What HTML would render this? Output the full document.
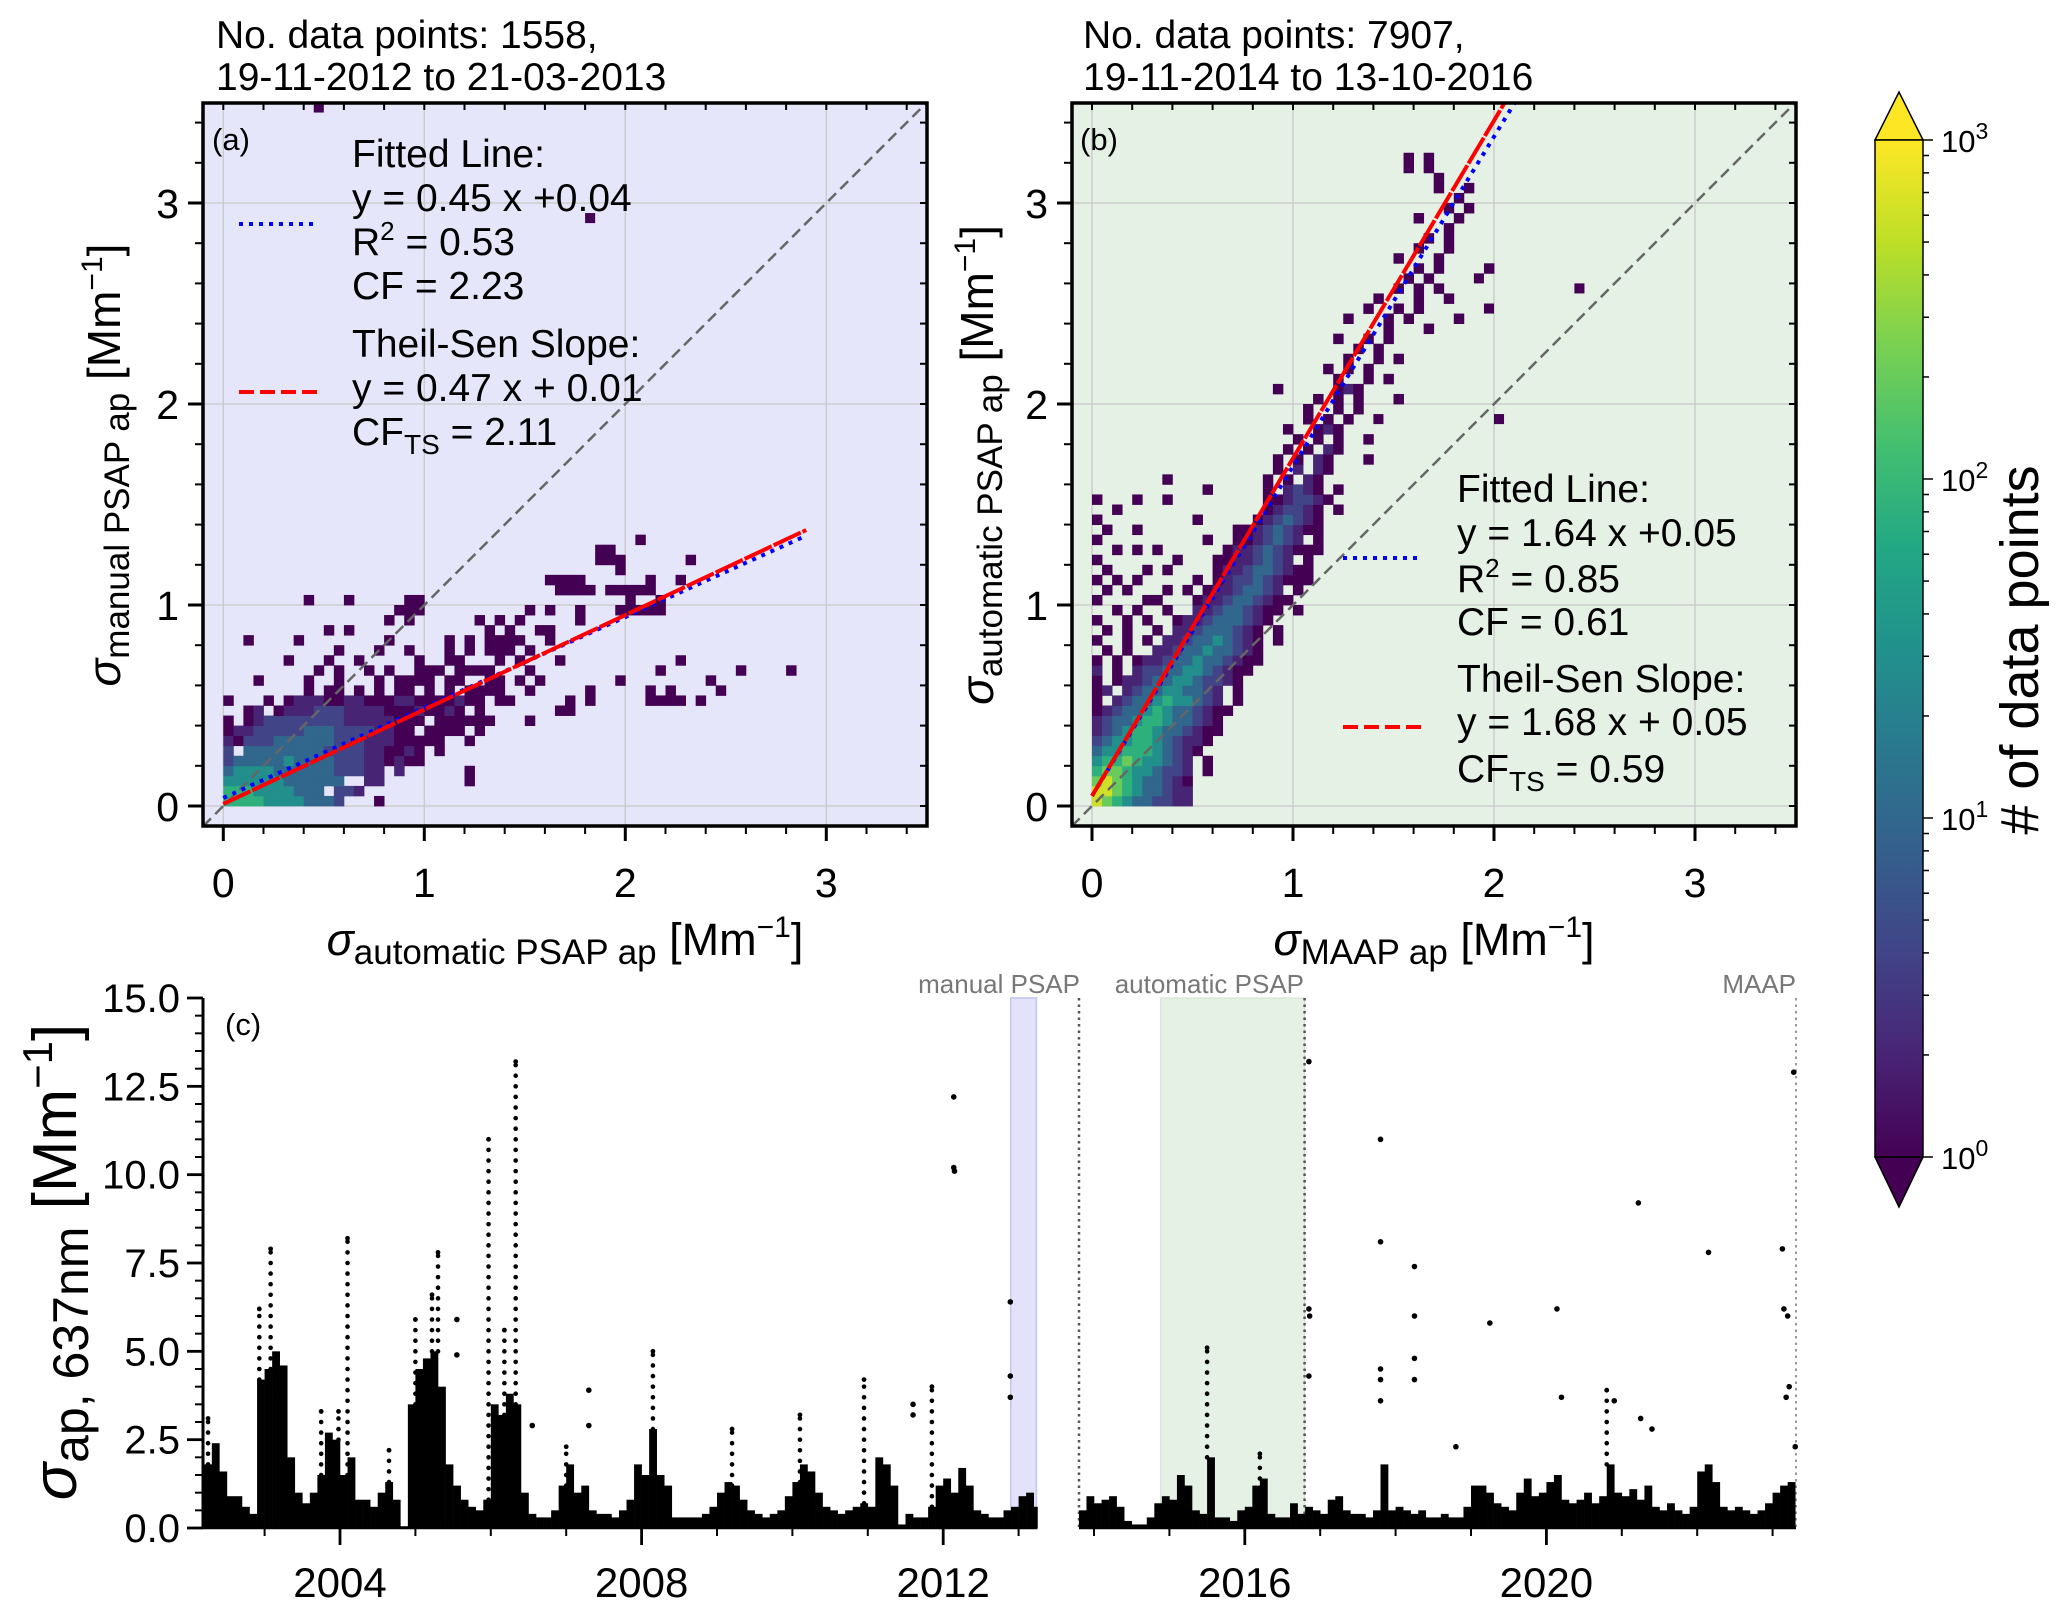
<!DOCTYPE html>
<html><head><meta charset="utf-8">
<style>
html,body{margin:0;padding:0;background:#fff;}
svg{display:block;font-family:"Liberation Sans",Arial,sans-serif;}
</style></head>
<body>
<svg id="fig" width="2067" height="1616" viewBox="0 0 2067 1616" xmlns="http://www.w3.org/2000/svg">
<defs>
<clipPath id="clipA"><rect x="203" y="103" width="724" height="723"/></clipPath>
<clipPath id="clipB"><rect x="1072" y="103" width="724" height="723"/></clipPath>
<linearGradient id="vir" x1="0" y1="1" x2="0" y2="0">
<stop offset="0" stop-color="#440154"/><stop offset="0.1" stop-color="#482475"/><stop offset="0.2" stop-color="#414487"/><stop offset="0.3" stop-color="#355f8d"/><stop offset="0.4" stop-color="#2a788e"/><stop offset="0.5" stop-color="#21918c"/><stop offset="0.6" stop-color="#22a884"/><stop offset="0.7" stop-color="#44bf70"/><stop offset="0.8" stop-color="#7ad151"/><stop offset="0.9" stop-color="#bddf26"/><stop offset="1" stop-color="#fde725"/>
</linearGradient>
</defs>

<!-- panel a -->
<g>
<rect x="203" y="103" width="724" height="723" fill="#e6e6fa"/>
<g id="gridA"></g>
<g id="histA" clip-path="url(#clipA)"></g>
<g id="linesA" clip-path="url(#clipA)"></g>
<rect x="203" y="103" width="724" height="723" fill="none" stroke="#000" stroke-width="3.5"/>
<g id="ticksA"></g>
<text x="212" y="150" font-size="31">(a)</text>
<text x="216" y="48" font-size="39">No. data points: 1558,</text>
<text x="216" y="90" font-size="39">19-11-2012 to 21-03-2013</text>
<text x="565" y="955" font-size="45" text-anchor="middle"><tspan font-style="italic">σ</tspan><tspan font-size="35" dy="9">automatic PSAP ap</tspan><tspan dy="-9"> [Mm</tspan><tspan font-size="30" dy="-18">−1</tspan><tspan dy="18">]</tspan></text>
<text transform="translate(120,465) rotate(-90)" font-size="46" text-anchor="middle"><tspan font-style="italic">σ</tspan><tspan font-size="35" dy="9">manual PSAP ap</tspan><tspan dy="-9"> [Mm</tspan><tspan font-size="30" dy="-18">−1</tspan><tspan dy="18">]</tspan></text>
<g font-size="39">
<line x1="239" y1="224" x2="313" y2="224" stroke="#0000ff" stroke-width="4" stroke-dasharray="4,6"/>
<line x1="239" y1="392" x2="319" y2="392" stroke="#ff0000" stroke-width="4" stroke-dasharray="15,6"/>
<text x="352" y="167">Fitted Line:</text>
<text x="352" y="211">y = 0.45 x +0.04</text>
<text x="352" y="255">R<tspan font-size="26" dy="-15">2</tspan><tspan dy="15"> = 0.53</tspan></text>
<text x="352" y="299">CF = 2.23</text>
<text x="352" y="357">Theil-Sen Slope:</text>
<text x="352" y="401">y = 0.47 x + 0.01</text>
<text x="352" y="445">CF<tspan font-size="28" dy="9">TS</tspan><tspan dy="-9"> = 2.11</tspan></text>
</g>
</g>

<!-- panel b -->
<g>
<rect x="1072" y="103" width="724" height="723" fill="#e6f1e6"/>
<g id="gridB"></g>
<g id="histB" clip-path="url(#clipB)"></g>
<g id="linesB" clip-path="url(#clipB)"></g>
<rect x="1072" y="103" width="724" height="723" fill="none" stroke="#000" stroke-width="3.5"/>
<g id="ticksB"></g>
<text x="1080" y="150" font-size="31">(b)</text>
<text x="1083" y="48" font-size="39">No. data points: 7907,</text>
<text x="1083" y="90" font-size="39">19-11-2014 to 13-10-2016</text>
<text x="1434" y="955" font-size="45" text-anchor="middle"><tspan font-style="italic">σ</tspan><tspan font-size="35" dy="9">MAAP ap</tspan><tspan dy="-9"> [Mm</tspan><tspan font-size="30" dy="-18">−1</tspan><tspan dy="18">]</tspan></text>
<text transform="translate(993,465) rotate(-90)" font-size="46" text-anchor="middle"><tspan font-style="italic">σ</tspan><tspan font-size="35" dy="9">automatic PSAP ap</tspan><tspan dy="-9"> [Mm</tspan><tspan font-size="30" dy="-18">−1</tspan><tspan dy="18">]</tspan></text>
<g font-size="39">
<line x1="1343" y1="558" x2="1418" y2="558" stroke="#0000ff" stroke-width="4" stroke-dasharray="4,6"/>
<line x1="1343" y1="727" x2="1423" y2="727" stroke="#ff0000" stroke-width="4" stroke-dasharray="15,6"/>
<text x="1457" y="502">Fitted Line:</text>
<text x="1457" y="546">y = 1.64 x +0.05</text>
<text x="1457" y="592">R<tspan font-size="26" dy="-15">2</tspan><tspan dy="15"> = 0.85</tspan></text>
<text x="1457" y="635">CF = 0.61</text>
<text x="1457" y="692">Theil-Sen Slope:</text>
<text x="1457" y="735">y = 1.68 x + 0.05</text>
<text x="1457" y="782">CF<tspan font-size="28" dy="9">TS</tspan><tspan dy="-9"> = 0.59</tspan></text>
</g>
</g>

<!-- colorbar -->
<g>
<polygon points="1875,140 1899,92 1923,140" fill="#fde725" stroke="#000" stroke-width="1.5"/>
<polygon points="1875,1157 1899,1207 1923,1157" fill="#440154" stroke="#000" stroke-width="1.5"/>
<rect x="1875" y="140" width="48" height="1017" fill="url(#vir)" stroke="#000" stroke-width="1.5"/>
<g id="cbTicks"></g>
<text transform="translate(2038,650) rotate(-90)" font-size="54" text-anchor="middle"># of data points</text>
</g>

<!-- panel c -->
<g>
<rect x="1010.7" y="998" width="25.7" height="530" fill="#e2e2fa" stroke="#c4c4f0" stroke-width="1.5"/>
<rect x="1160.7" y="998" width="143.9" height="530" fill="#e5f1e5" stroke="#cfe3cf" stroke-width="1"/>
<line x1="1079" y1="998" x2="1079" y2="1528" stroke="#555" stroke-width="2.5" stroke-dasharray="2.5,4"/>
<line x1="1304.6" y1="998" x2="1304.6" y2="1528" stroke="#555" stroke-width="2.5" stroke-dasharray="2.5,4"/>
<line x1="1796" y1="998" x2="1796" y2="1528" stroke="#777" stroke-width="1.5" stroke-dasharray="2.5,4"/>
<text x="1080" y="993" font-size="26" fill="#777" text-anchor="end">manual PSAP</text>
<text x="1304" y="993" font-size="26" fill="#777" text-anchor="end">automatic PSAP</text>
<text x="1796" y="993" font-size="26" fill="#777" text-anchor="end">MAAP</text>
<g id="seriesC"></g>
<g id="axesC"></g>
<text x="225" y="1035" font-size="31">(c)</text>
<text transform="translate(76,1262) rotate(-90)" font-size="62" text-anchor="middle"><tspan font-style="italic">σ</tspan><tspan font-size="50" dy="12">ap, 637nm</tspan><tspan dy="-12"> [Mm</tspan><tspan font-size="42" dy="-24">−1</tspan><tspan dy="24">]</tspan></text>
</g>
</svg>

<script>
// ---------- data: panel (a) 2D histogram, rows = y-bins of 0.05 from 0, chars = level per x-bin of 0.05 ----------
const binSize = 0.05;
const levelCounts = [0, 1, 2, 4, 10, 30, 80, 200, 600];
const histARows = [
"666655554443...1",
"6665555444.332",
"555555444444..22........1",
"4555544444433322.2......1",
"34444454444333221211",
"3.444444443333221121.1",
"2133344444433322211111..1",
"1223333344433332211.1111.1",
"1.123333333322222111.111111...1",
"..12.1222333222211121121.1.......11",
"1...1.12221122111221111211.11.....1.1.....1111.1",
"........1.11.1.1.11.1.1.1111..1.....1.....1.1....1",
"...1....1..1...1.1111.11..11.1.1.......1........1",
".........1.1..1.1..111.1111...1............1.......1....1",
"......1...1..1.....1..11...1.1...1...........1",
"...........1...1..1...1.1.111.1",
"..1....1........1.....1.1.1111..1",
"..........1.1.............1.1..11",
"................1.1......1.1.1.....1",
".................111..........1.1..1...11111",
"........1...1.....11....................1..1",
".................................1111.11111",
"................................1111......1..1",
".......................................1",
".....................................111......1",
".....................................11",
".........................................1"
];
const histAExtraCols = [36, 9];
const histAExtraRows = [58, 69];
const histAExtraLevels = [1, 1];

// ---------- data: panel (b) ----------
const histBRows = [
"8765443322",
"8876544322",
"7876544321",
"6776554332.1",
"5667655432.1",
"45566654321",
"345566543221",
"2345665443211",
"2344566544321",
"12344565443211",
"1.23445655432.1",
"12.2344554432.1",
"1.1223445543321",
"2.1.233445543211",
"1.1.1223445443211",
".1.1..22344544321",
"1..1.1.2234454321.1",
".1.1..1.223444321.1",
"1..1.1..1223444321",
"..1.1..1..223443211.1",
"1....11...1223443211",
".1.1...1.1.12234432.1",
"1.1.1.....1.1233432111",
".1...1.1....1223443211",
"1.......1...11223432.1",
"..1.1.1......1223432111",
"1..........1..1123432.1",
".1..1.........112343211",
"1.........1.....1234321",
"..1..............123321.1",
"1...1..1.........1123321",
"...........1.....1.2321.1",
".......1.........1.1.21",
"..................1.2.21",
"..................1.1.21...1",
"...................1.1.21",
"....................1.1.1..1",
"...................1..121",
".....................1.1.1",
".....................1..1.1",
"......................1.1.1...1",
"..................1.....121",
"........................1..1.1",
".......................1.1.1",
".........................1..1.1",
"..........................1.1",
"........................1..1.1",
".............................1...1",
".........................1...1.1....1",
"...........................1..1.1",
"............................1...1..1",
"..............................1.1.1",
"...............................1.1",
"................................1.1....1",
"..............................1...1",
"................................1..1",
".................................1.1",
"...................................1",
"................................1...1",
"...................................1.1",
"....................................1",
"..................................1..1",
"..................................1",
"...............................1.1",
"...............................1.1"
];
const histBExtraCols = [38, 39, 40, 48, 28];
const histBExtraRows = [52, 49, 38, 51, 38];
const histBExtraLevels = [1, 1, 1, 1, 1];

// fits
const fitA = [0.45, 0.04], tsA = [0.47, 0.01];
const fitB = [1.64, 0.05], tsB = [1.68, 0.05];
const fitXmaxA = 2.9, fitXmaxB = 2.2;

// ---------- data: panel (c) time series ----------
const seg1Start = 2002.2;
const seg1Env = [1.8,2.4,1.6,0.9,0.9,0.6,0.4,4.2,4.5,5.0,4.6,2.0,1.0,0.7,1.0,1.5,2.7,2.5,1.5,2.0,
0.8,0.8,0.6,1.0,1.3,0.8,0.05,3.5,4.5,4.8,5.0,4.0,1.8,1.2,0.8,0.6,0.5,0.8,3.5,3.2,
3.8,3.5,1.0,0.4,0.3,0.3,0.5,1.2,1.8,1.0,1.2,0.5,0.4,0.4,0.3,0.5,0.8,1.8,1.5,2.8,
1.5,1.2,0.3,0.3,0.3,0.3,0.4,0.6,1.0,1.3,1.2,0.8,0.5,0.4,0.3,0.4,0.5,0.9,1.3,1.8,
1.6,1.0,0.6,0.5,0.4,0.5,0.6,0.7,0.6,2.0,1.8,1.2,0.1,0.4,0.3,0.3,0.6,1.2,1.4,1.0,
1.7,1.2,0.5,0.4,0.3,0.3,0.5,0.6,0.9,1.0,0.6];
const seg2Start = 2013.8;
const seg2Env = [0.5,0.9,0.7,0.8,0.9,0.6,0.2,0.1,0.1,0.3,0.7,0.9,0.8,1.5,1.2,0.5,0.4,2.0,0.3,0.3,
0.2,0.5,0.6,1.2,1.4,0.4,0.3,0.3,0.7,0.4,0.6,0.5,0.4,0.8,0.9,0.5,0.4,0.4,0.3,0.5,
1.8,0.5,0.6,0.5,0.4,0.5,0.3,0.3,0.4,0.3,0.3,0.6,1.2,1.2,1.0,0.7,0.6,0.5,1.0,1.4,
0.9,1.0,1.3,1.5,0.8,0.7,0.8,1.0,0.7,0.9,1.8,1.0,0.9,1.1,0.8,1.2,0.6,0.5,0.7,0.5,
0.4,0.6,1.6,1.8,1.3,0.6,0.5,0.6,0.5,0.4,0.5,0.7,1.0,1.2,1.3];
const envStep = 0.1;
const seg1End = 2013.25, seg2End = 2023.31;
const colYears = [2002.25,2002.93,2003.08,2003.22,2003.75,2003.98,2004.1,2004.65,2005.0,2005.22,2005.3,2005.97,2006.18,2006.33,2007.0,2008.15,2009.2,2010.1,2010.95,2011.85,2015.5,2016.2,2020.8];
const colTops  = [3.1,6.2,7.9,3.8,3.3,3.3,8.2,2.2,5.9,6.6,7.8,11.0,5.6,13.2,2.3,5.0,2.8,3.2,4.2,4.0,5.1,2.1,3.9];
const ptYears = [2005.55,2005.55,2006.55,2007.3,2007.3,2011.6,2011.6,2012.14,2012.14,2012.15,2012.89,2012.89,2012.89,2016.85,2016.85,2016.86,2016.85,2017.8,2017.8,2017.8,2017.8,2017.8,2018.25,2018.25,2018.25,2018.25,2019.25,2018.8,2020.14,2020.2,2021.22,2021.25,2021.4,2022.15,2023.13,2023.15,2023.2,2023.22,2023.18,2023.28,2023.3,2020.9];
const ptVals  = [5.9,4.9,2.9,3.9,2.9,3.5,3.2,12.2,10.2,10.1,6.4,4.3,3.7,13.2,6.2,6.0,4.3,11.0,8.1,4.5,4.2,3.6,7.4,6.0,4.8,4.2,5.8,2.3,6.2,3.7,9.2,3.1,2.8,7.8,7.9,6.2,6.0,4.0,3.7,12.9,2.3,3.6];
const yTicksC = [0, 2.5, 5, 7.5, 10, 12.5, 15];
const yTickLabelsC = ["0.0","2.5","5.0","7.5","10.0","12.5","15.0"];
const xTicksC = [2004, 2008, 2012, 2016, 2020];
const abTicks = [0, 1, 2, 3];
const cbExps = [0, 1, 2, 3];

// ---------- helpers ----------
const NS = "http://www.w3.org/2000/svg";
function mk(tag, attrs, parent) {
  const e = document.createElementNS(NS, tag);
  for (const k in attrs) e.setAttribute(k, attrs[k]);
  parent.appendChild(e);
  return e;
}
const vstops = ["#440154","#482475","#414487","#355f8d","#2a788e","#21918c","#22a884","#44bf70","#7ad151","#bddf26","#fde725"];
function hexToRgb(h){return [parseInt(h.substr(1,2),16),parseInt(h.substr(3,2),16),parseInt(h.substr(5,2),16)];}
function viridis(t){
  t = Math.max(0, Math.min(1, t));
  const p = t * 10, i = Math.min(9, Math.floor(p)), f = p - i;
  const a = hexToRgb(vstops[i]), b = hexToRgb(vstops[i+1]);
  return "rgb(" + a.map((v,k)=>Math.round(v + (b[k]-v)*f)).join(",") + ")";
}
const PX = 201;
function axisA(x){return 223.3 + PX*x;}
function axisB(x){return 1092 + PX*x;}
function axisY(y){return 806 - PX*y;}
function yearX(y){return 340 + 75.4*(y - 2004);}
function valY(v){return 1528 - (530/15)*v;}

function drawHist(rows, exCols, exRows, exLev, xs, g) {
  const cell = binSize*PX;
  rows.forEach((row, j) => {
    for (let i = 0; i < row.length; i++) {
      const c = row[i];
      if (c === '.') continue;
      const n = levelCounts[+c];
      const r = mk('rect', {x: xs(i*binSize), y: axisY((j+1)*binSize), width: cell+0.4, height: cell+0.4, fill: viridis(Math.log10(n)/3)}, g);
      
      
    }
  });
  exCols.forEach((ci, k) => {
    const n = levelCounts[exLev[k]];
    const r = mk('rect', {x: xs(ci*binSize), y: axisY((exRows[k]+1)*binSize), width: cell, height: cell, fill: viridis(Math.log10(n)/3)}, g);
    
    
  });
}

function drawGrid(xs, x0, x1, g) {
  abTicks.forEach(t => {
    const a = mk('line', {x1: xs(t), x2: xs(t), y1: 103, y2: 826, stroke: '#c8c8c8', 'stroke-width': 1.3}, g);
    
    
    const b = mk('line', {x1: x0, x2: x1, y1: axisY(t), y2: axisY(t), stroke: '#c8c8c8', 'stroke-width': 1.3}, g);
    
    
  });
}

function drawTicks(xs, x0, x1, g) {
  for (let k = 0; k <= 17; k++) {
    const v = k*0.2; const major = (k % 5 === 0);
    const L = major ? 15 : 8;
    const px = xs(v), py = axisY(v);
    if (px >= x0 && px <= x1) {
      mk('line', {x1: px, x2: px, y1: 826, y2: 826+L, stroke: '#000', 'stroke-width': major?3:2}, g);
      mk('line', {x1: px, x2: px, y1: 103, y2: 103+7, stroke: '#000', 'stroke-width': 2}, g);
    }
    if (py >= 103 && py <= 826) {
      mk('line', {x1: x0-L, x2: x0, y1: py, y2: py, stroke: '#000', 'stroke-width': major?3:2}, g);
      mk('line', {x1: x1-7, x2: x1, y1: py, y2: py, stroke: '#000', 'stroke-width': 2}, g);
    }
  }
  abTicks.forEach(t => {
    const tx = mk('text', {x: xs(t), y: 897, 'font-size': 41, 'text-anchor': 'middle'}, g);
    tx.textContent = String(t);
    
    
    const ty = mk('text', {x: x0-24, y: axisY(t)+15, 'font-size': 41, 'text-anchor': 'end'}, g);
    ty.textContent = String(t);
    
    
  });
}

function drawLines(xs, fit, ts, xmax, g) {
  const d = mk('line', {x1: xs(-0.1), y1: axisY(-0.1), x2: xs(3.5), y2: axisY(3.5), stroke: '#666', 'stroke-width': 2.5, 'stroke-dasharray': '11,6'}, g);
  
  
  const f = mk('line', {x1: xs(0), y1: axisY(fit[1]), x2: xs(xmax), y2: axisY(fit[0]*xmax+fit[1]), stroke: '#0000ff', 'stroke-width': 4, 'stroke-dasharray': '4,6'}, g);
  
  
  const t = mk('line', {x1: xs(0), y1: axisY(ts[1]), x2: xs(xmax), y2: axisY(ts[0]*xmax+ts[1]), stroke: '#ff0000', 'stroke-width': 4, 'stroke-dasharray': '30,2'}, g);
  
  
}

const gA = document.getElementById('histA'), gB = document.getElementById('histB');
drawGrid(axisA, 203, 927, document.getElementById('gridA'));
drawGrid(axisB, 1072, 1796, document.getElementById('gridB'));
drawHist(histARows, histAExtraCols, histAExtraRows, histAExtraLevels, axisA, gA);
drawHist(histBRows, histBExtraCols, histBExtraRows, histBExtraLevels, axisB, gB);
drawLines(axisA, fitA, tsA, fitXmaxA, document.getElementById('linesA'));
drawLines(axisB, fitB, tsB, fitXmaxB, document.getElementById('linesB'));
drawTicks(axisA, 203, 927, document.getElementById('ticksA'));
drawTicks(axisB, 1072, 1796, document.getElementById('ticksB'));

// colorbar ticks
(function(){
  const g = document.getElementById('cbTicks');
  const top = 140, bot = 1157;
  const cy = v => bot - (bot-top)*Math.log10(v)/3;
  for (let e = 0; e < 3; e++) for (let m = 1; m <= 9; m++) {
    const v = m*Math.pow(10,e); const yy = cy(v);
    mk('line', {x1: 1923, x2: 1923+(m===1?10:6), y1: yy, y2: yy, stroke: '#000', 'stroke-width': 1.5}, g);
  }
  mk('line', {x1: 1923, x2: 1933, y1: cy(1000), y2: cy(1000), stroke: '#000', 'stroke-width': 1.5}, g);
  cbExps.forEach(e => {
    const t = mk('text', {x: 1941, y: cy(Math.pow(10,e))+12, 'font-size': 31}, g);
    
    
    t.innerHTML = '10<tspan font-size="23" dy="-13">' + e + '</tspan>';
  });
})();

// panel c series
(function(){
  const g = document.getElementById('seriesC');
  function env(start, vals, end) {
    vals.forEach((v, i) => {
      const y0 = start + i*envStep, y1 = Math.min(end, y0 + envStep);
      const r = mk('rect', {x: yearX(y0), y: valY(v), width: yearX(y1)-yearX(y0)+0.3, height: valY(0)-valY(v), fill: '#000'}, g);
      
      
    });
  }
  env(seg1Start, seg1Env, seg1End);
  env(seg2Start, seg2Env, seg2End);
  colYears.forEach((yr, k) => {
    const segVals = yr < 2013.5 ? seg1Env : seg2Env, st = yr < 2013.5 ? seg1Start : seg2Start;
    const base = segVals[Math.min(segVals.length-1, Math.floor((yr-st)/envStep))];
    for (let v = base; v <= colTops[k]; v += 0.3) {
      const c = mk('circle', {cx: yearX(yr), cy: valY(v), r: 2.3, fill: '#000'}, g);
      
      
    }
    const c = mk('circle', {cx: yearX(yr), cy: valY(colTops[k]), r: 2.4, fill: '#000'}, g);
    
    
  });
  ptYears.forEach((yr, k) => {
    const c = mk('circle', {cx: yearX(yr), cy: valY(ptVals[k]), r: 2.8, fill: '#000'}, g);
    
    
  });
})();

// panel c axes
(function(){
  const g = document.getElementById('axesC');
  const spine = mk('line', {x1: 203, x2: 203, y1: 998, y2: 1528, stroke: '#000', 'stroke-width': 3}, g);
  
  
  mk('line', {x1: 203, x2: yearX(seg1End), y1: 1528, y2: 1528, stroke: '#000', 'stroke-width': 2.5}, g);
  mk('line', {x1: 1079, x2: 1796, y1: 1528, y2: 1528, stroke: '#000', 'stroke-width': 2.5}, g);
  for (let k = 0; k <= 30; k++) {
    const v = k*0.5, major = (k % 5 === 0);
    mk('line', {x1: 203 - (major?16:8), x2: 203, y1: valY(v), y2: valY(v), stroke: '#000', 'stroke-width': major?2.8:2}, g);
  }
  yTicksC.forEach((v, i) => {
    const t = mk('text', {x: 180, y: valY(v)+14, 'font-size': 40, 'text-anchor': 'end'}, g);
    t.textContent = yTickLabelsC[i];
    
    
  });
  for (let yr = 2003; yr <= 2023; yr++) {
    const major = xTicksC.indexOf(yr) >= 0;
    mk('line', {x1: yearX(yr), x2: yearX(yr), y1: 1528, y2: 1528 + (major?17:8), stroke: '#000', 'stroke-width': major?2.8:2}, g);
  }
  xTicksC.forEach(yr => {
    const t = mk('text', {x: yearX(yr), y: 1597, 'font-size': 42, 'text-anchor': 'middle'}, g);
    t.textContent = String(yr);
    
    
  });
})();
</script>
</body></html>
